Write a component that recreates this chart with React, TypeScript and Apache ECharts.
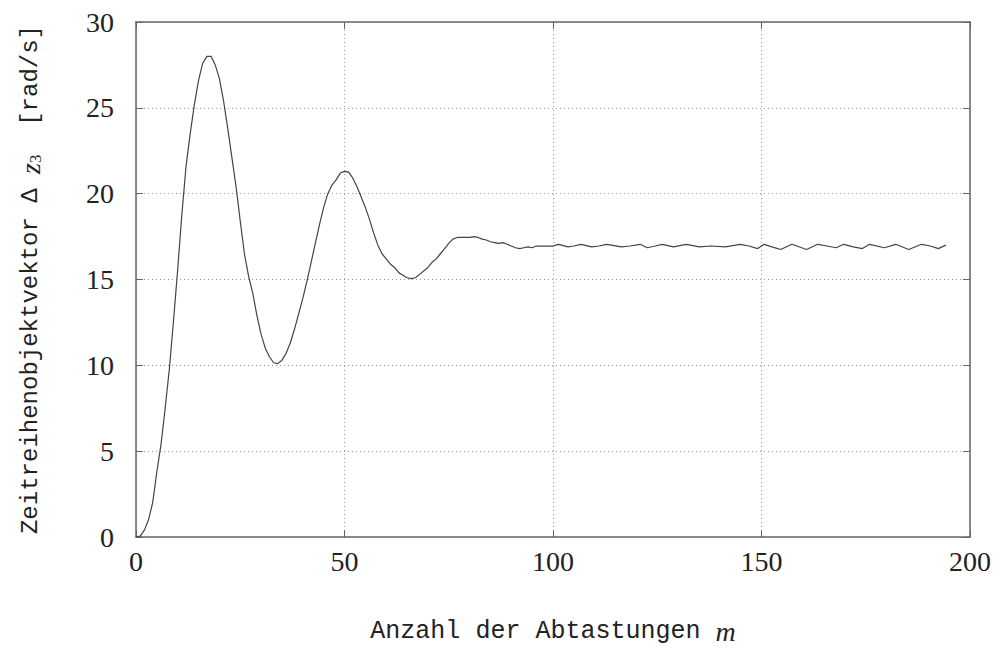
import React, { useEffect, useRef } from "react";
import * as echarts from "echarts";

const xTicks = [0, 50, 100, 150, 200];
const yTicks = [0, 5, 10, 15, 20, 25, 30];

const samples: number[] = [
  0, 1, 2, 3, 4, 5, 6, 7, 8, 9, 10, 11, 12, 13, 14, 15, 16, 17, 18, 19,
  20, 21, 22, 23, 24, 25, 26, 27, 28, 29, 30, 31, 32, 33, 34, 35, 36, 37, 38, 39,
  40, 41, 42, 43, 44, 45, 46, 47, 48, 49, 50, 51, 52, 53, 54, 55, 56, 57, 58, 59,
  60, 61, 62, 63, 64, 65, 66, 67, 68, 69, 70, 71, 72, 73, 74, 75, 76, 77, 78, 79,
  80, 81, 82, 83, 84, 85, 86, 87, 88, 89, 90, 91, 92, 93, 94, 95, 96, 97, 98, 99,
  100, 101.3, 103.6, 105, 106.7, 109.3, 111, 112.9, 116.4, 118.5, 120.9, 122.6, 124.5, 126.2, 128.9, 132,
  135.1, 137.8, 141.3, 144.9, 147, 149.1, 150.6, 152.5, 154.6, 157.3, 160.8, 163.5, 165.7, 167.9, 169.7,
  172, 174.2, 175.9, 179.5, 182.2, 185.3, 188.4, 190.5, 192.4, 194.2,
];

const values: number[] = [
  0, 0.05, 0.4, 1.0, 2.0, 3.8, 5.4, 7.5, 9.8, 12.6, 15.6, 18.8, 21.6, 23.5, 25.2, 26.6, 27.6, 28.0, 28.0, 27.5,
  26.7, 25.4, 23.8, 22.1, 20.4, 18.4, 16.5, 15.2, 14.2, 12.9, 11.8, 11.0, 10.5, 10.15, 10.1, 10.3, 10.7, 11.3, 12.1, 13.0,
  13.9, 14.9, 16.0, 17.1, 18.2, 19.2, 20.0, 20.5, 20.8, 21.2, 21.3, 21.25, 20.9, 20.4, 19.8, 19.2, 18.5, 17.7, 17.0, 16.5,
  16.2, 15.9, 15.7, 15.4, 15.25, 15.1, 15.05, 15.1, 15.3, 15.5, 15.7, 16.0, 16.2, 16.5, 16.8, 17.1, 17.35, 17.45, 17.45, 17.45,
  17.45, 17.5, 17.45, 17.35, 17.3, 17.2, 17.15, 17.1, 17.15, 17.05, 16.95, 16.85, 16.8, 16.85, 16.9, 16.85, 16.95, 16.95, 16.95, 16.95,
  16.95, 17.05, 16.9, 16.95, 17.05, 16.9, 16.95, 17.05, 16.9, 16.95, 17.05, 16.85, 16.95, 17.05, 16.9, 17.05,
  16.9, 16.95, 16.9, 17.05, 16.95, 16.8, 17.05, 16.9, 16.75, 17.05, 16.75, 17.05, 16.95, 16.85, 17.05,
  16.9, 16.8, 17.05, 16.85, 17.05, 16.75, 17.05, 16.95, 16.8, 17.0,
];

const xName = "Anzahl der Abtastungen {i|m}";
const yName = "Zeitreihenobjektvektor Δ {i|z}{sub|3}  [rad/s]";

const MONO = "'Liberation Mono', 'DejaVu Sans Mono', monospace";
const SERIF = "'Liberation Serif', 'DejaVu Serif', serif";

export default function App() {
  const ref = useRef<HTMLDivElement>(null);
  useEffect(() => {
    if (!ref.current) return;
    const chart = echarts.init(ref.current, null, { renderer: "svg" });
    const data = samples.map((m, i) => [m, values[i]]);
    const axisLineStyle = { color: "#666", width: 1.5 };
    const gridLine = { show: true, lineStyle: { color: "#999", type: [1, 3] as any, width: 1 } };
    const rich = {
      i: { fontFamily: SERIF, fontStyle: "italic", fontSize: 28, color: "#222" },
      sub: { fontFamily: SERIF, fontSize: 17, color: "#222", verticalAlign: "bottom", padding: [10, 0, 0, 0] },
    };
    chart.setOption({
      animation: false,
      backgroundColor: "#fff",
      grid: { left: 136, right: 25, top: 22, bottom: 114, containLabel: false },
      xAxis: [
        {
          type: "value",
          min: 0,
          max: 200,
          interval: 50,
          name: xName,
          nameLocation: "middle",
          nameGap: 80,
          nameTextStyle: { fontFamily: MONO, fontSize: 25, color: "#222", rich },
          axisLine: { show: true, onZero: false, lineStyle: axisLineStyle },
          axisTick: { show: true, inside: true, length: 7, lineStyle: { color: "#666" } },
          axisLabel: {
            fontFamily: SERIF,
            fontSize: 28,
            color: "#222",
            margin: 10,
            formatter: (v: number) => (xTicks.includes(v) ? String(v) : ""),
          },
          splitLine: gridLine,
        },
        {
          type: "value",
          position: "top",
          min: 0,
          max: 200,
          interval: 50,
          axisLine: { show: true, onZero: false, lineStyle: axisLineStyle },
          axisTick: { show: true, inside: true, length: 7, lineStyle: { color: "#666" } },
          axisLabel: { show: false },
          splitLine: { show: false },
        },
      ],
      yAxis: [
        {
          type: "value",
          min: 0,
          max: 30,
          interval: 5,
          name: yName,
          nameLocation: "middle",
          nameGap: 92,
          nameTextStyle: { fontFamily: MONO, fontSize: 24, color: "#222", rich },
          axisLine: { show: true, onZero: false, lineStyle: axisLineStyle },
          axisTick: { show: true, inside: true, length: 7, lineStyle: { color: "#666" } },
          axisLabel: {
            fontFamily: SERIF,
            fontSize: 28,
            color: "#222",
            margin: 22,
            formatter: (v: number) => (yTicks.includes(v) ? String(v) : ""),
          },
          splitLine: gridLine,
        },
        {
          type: "value",
          position: "right",
          min: 0,
          max: 30,
          interval: 5,
          axisLine: { show: true, onZero: false, lineStyle: axisLineStyle },
          axisTick: { show: true, inside: true, length: 7, lineStyle: { color: "#666" } },
          axisLabel: { show: false },
          splitLine: { show: false },
        },
      ],
      series: [
        {
          type: "line",
          data,
          showSymbol: false,
          symbol: "none",
          smooth: false,
          lineStyle: { color: "#444", width: 1.2 },
          xAxisIndex: 0,
          yAxisIndex: 0,
        },
      ],
    });
    return () => chart.dispose();
  }, []);
  return (
    <div
      ref={ref}
      style={{ position: "absolute", left: 0, top: 0, width: 995, height: 651, background: "#fff" }}
    />
  );
}
